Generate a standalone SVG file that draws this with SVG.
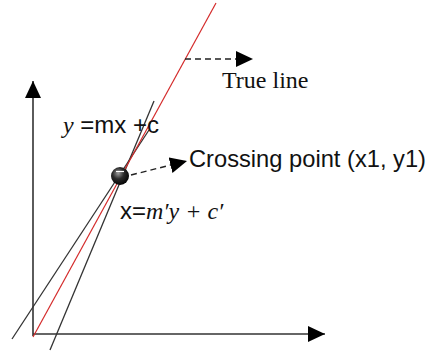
<svg xmlns="http://www.w3.org/2000/svg" width="429" height="351" viewBox="0 0 429 351">
<style>
.axis{stroke:#333;stroke-width:1.6;fill:none}
.blk{stroke:#333;stroke-width:1.3;fill:none}
.red{stroke:#d42a2a;stroke-width:1.2;fill:none}
.dash{stroke:#222;stroke-width:1.4;fill:none;stroke-dasharray:6 4}
.sans{font-family:"Liberation Sans",Arial,sans-serif;font-size:24px;fill:#111}
.serif{font-family:"Liberation Serif","Times New Roman",serif;font-size:24px;fill:#111}
.it{font-family:"Liberation Serif","Times New Roman",serif;font-style:italic}
</style>
<defs>
<marker id="ah" markerUnits="userSpaceOnUse" markerWidth="18" markerHeight="18" viewBox="0 0 18 18" refX="17" refY="8" orient="auto">
<path d="M0,0 L17,8 L0,16 Z" fill="#000"/>
</marker>
<radialGradient id="ball" cx="0.4" cy="0.35" r="0.7">
<stop offset="0" stop-color="#9a9a9a"/>
<stop offset="0.45" stop-color="#2a2a2a"/>
<stop offset="1" stop-color="#000"/>
</radialGradient>
</defs>
<g id="axes">
<line class="axis" x1="33" y1="336" x2="33" y2="81" marker-end="url(#ah)"/>
<line class="axis" x1="33" y1="334" x2="325" y2="334" marker-end="url(#ah)"/>
</g>
<g id="lines">
<line class="blk" x1="12" y1="339" x2="149" y2="130"/>
<line class="blk" x1="50" y1="350" x2="154" y2="101"/>
<line class="red" x1="33" y1="337" x2="216" y2="3"/>
</g>
<g id="connectors">
<line class="dash" x1="185" y1="59" x2="253" y2="59" marker-end="url(#ah)"/>
<line class="dash" x1="131" y1="175" x2="187" y2="161" marker-end="url(#ah)"/>
</g>
<g id="crossing-point">
<circle cx="120" cy="176" r="9" fill="url(#ball)"/>
<line x1="116" y1="171.5" x2="124" y2="171.5" stroke="#fff" stroke-width="1.2"/>
</g>
<g id="true-line-label">
<text class="serif" x="222" y="88">True line</text>
</g>
<g id="crossing-label">
<text class="sans" x="189" y="167" style="font-size:23.7px">Crossing point (x1, y1)</text>
</g>
<g id="eq-y">
<text class="sans" x="63" y="133"><tspan class="it">y</tspan> =mx +c</text>
</g>
<g id="eq-x">
<text class="sans" x="120" y="219">x=<tspan class="it">m′y</tspan><tspan class="it"> + c′</tspan></text>
</g>
</svg>
